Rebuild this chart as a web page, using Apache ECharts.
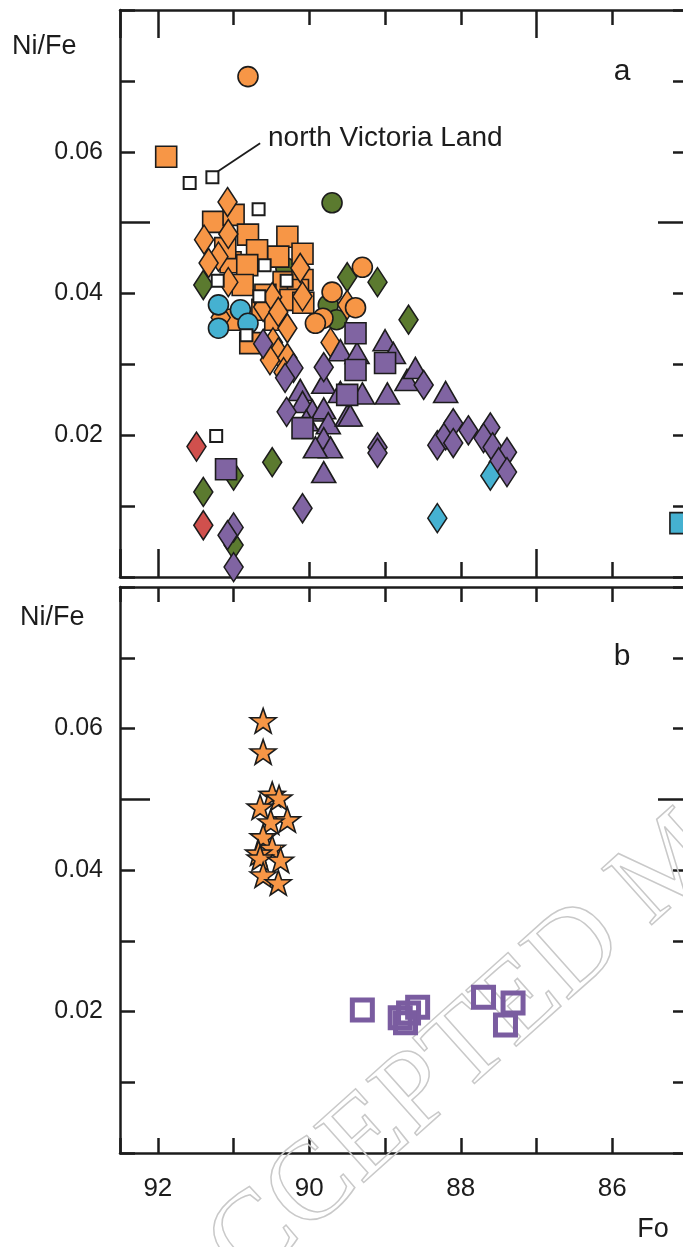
<!DOCTYPE html>
<html><head><meta charset="utf-8">
<script src="https://cdn.jsdelivr.net/npm/echarts@6/dist/echarts.min.js"></script>
<style>html,body{margin:0;padding:0;background:#fff}#c{width:683px;height:1247px}</style>
</head><body><div id="c"></div>
<script>
// ---- tick labels ----
const xTickLabels = [92, 90, 88, 86];
const yTickLabels = [0.02, 0.04, 0.06];
const yLongTicks = [0.05];

// ---- panel a data: [Fo, Ni/Fe] ----
const orangeCircles = [[90.81,0.0706],[89.30,0.0437],[89.70,0.0402],[89.82,0.0365],[89.92,0.0358],[89.39,0.0380]];
const orangeSquares = [[91.89,0.0593],[91.27,0.0501],[91.00,0.0511],[90.81,0.0483],[90.29,0.0480],[90.69,0.0461],
  [90.41,0.0452],[90.09,0.0456],[91.04,0.0444],[90.82,0.0440],[90.88,0.0412],[90.34,0.0416],[90.09,0.0419],
  [90.15,0.0405],[90.25,0.0391],[90.08,0.0387],[90.62,0.0377],[90.78,0.0330],[91.04,0.0363],[90.58,0.0398],
  [90.45,0.0363],[91.11,0.0464]];
const orangeDiamonds = [[91.08,0.0529],[91.39,0.0476],[91.07,0.0484],[91.20,0.0452],[91.33,0.0443],[91.07,0.0416],
  [91.17,0.0366],[90.61,0.0381],[90.49,0.0395],[90.41,0.0374],[90.29,0.0351],[90.48,0.0331],[90.41,0.0317],
  [90.52,0.0306],[90.29,0.0309],[90.34,0.0289],[90.09,0.0396],[89.72,0.0331],[89.50,0.0384],[90.12,0.0436]];
const greenCircles = [[89.70,0.0528],[89.75,0.0384],[89.64,0.0363],[90.31,0.0436]];
const greenDiamonds = [[89.50,0.0423],[89.10,0.0416],[88.69,0.0363],[91.40,0.0412],[90.49,0.0162],[91.40,0.0120],
  [91.00,0.0143],[91.00,0.0045]];
const cyanCircles = [[91.20,0.0384],[90.91,0.0377],[91.20,0.0351],[90.81,0.0358]];
const cyanDiamonds = [[87.61,0.0143],[88.31,0.0083]];
const cyanSquares = [[85.10,0.0076]];
const redDiamonds = [[91.49,0.0184],[91.40,0.0073]];
const nvlSquares = [[91.58,0.0556],[91.28,0.0564],[90.67,0.0519],[91.23,0.0199],[91.21,0.0418],[90.66,0.0396],
  [90.83,0.0341],[90.30,0.0418],[90.59,0.0440]];
const purpleTriangles = [[90.12,0.0264],[90.09,0.0247],[89.96,0.0235],[89.81,0.0238],[89.75,0.0217],[89.81,0.0196],
  [89.72,0.0183],[89.81,0.0148],[89.92,0.0183],[89.59,0.0320],[89.81,0.0274],[89.59,0.0261],[89.50,0.0228],
  [89.37,0.0316],[89.00,0.0334],[88.97,0.0259],[88.71,0.0278],[88.60,0.0295],[88.89,0.0316],[88.20,0.0261],
  [89.30,0.0259],[89.46,0.0228],[90.04,0.0221]];
const purpleSquares = [[91.10,0.0152],[90.09,0.0210],[89.39,0.0344],[89.00,0.0302],[89.39,0.0292],[89.50,0.0257]];
const purpleDiamonds = [[90.61,0.0329],[90.21,0.0295],[90.32,0.0281],[90.30,0.0233],[90.09,0.0097],[91.00,0.0070],
  [91.08,0.0059],[91.00,0.0014],[89.81,0.0296],[89.10,0.0183],[89.10,0.0175],[88.49,0.0271],[88.31,0.0186],
  [88.20,0.0200],[88.10,0.0217],[88.10,0.0189],[87.90,0.0207],[87.61,0.0211],[87.70,0.0196],[87.58,0.0183],
  [87.39,0.0176],[87.50,0.0162],[87.39,0.0148]];
const leaderLine = [[91.21,0.0572],[90.65,0.0612]];

// ---- panel b data ----
const orangeStars = [[90.61,0.0611],[90.61,0.0567],[90.49,0.0507],[90.40,0.0502],[90.65,0.0489],[90.29,0.0471],
  [90.51,0.0468],[90.61,0.0447],[90.49,0.0431],[90.67,0.0424],[90.65,0.0417],[90.38,0.0414],[90.61,0.0393],[90.41,0.0382]];
const purpleOpenSquares = [[89.30,0.0202],[88.80,0.0191],[88.73,0.0184],[88.57,0.0206],[88.69,0.0198],[87.70,0.0220],
  [87.31,0.0212],[87.41,0.0181]];

// ---- styling ----
const FONT = '"Liberation Sans", Arial, sans-serif';
const INK = '#1c1c1c';
const C = {orange:'#F79646', green:'#5B7A2F', cyan:'#45B1D1', purple:'#8064A2', red:'#D0504D'};
const STAR = 'path://M0,-10L2.35,-3.24L9.51,-3.09L3.8,1.24L5.88,8.09L0,4L-5.88,8.09L-3.8,1.24L-9.51,-3.09L-2.35,-3.24Z';
const UNIT = 568 / 7.5;

function xAx(grid, pos, len, labels) {
  return {type:'value', gridIndex:grid, position:pos, min:85, max:92.5, interval:1, inverse:true,
    axisLine:{show:true, onZero:false, lineStyle:{color:INK, width:2.5}},
    axisTick:{show:true, inside:true, length:len, lineStyle:{color:INK, width:2.5}},
    axisLabel:{show:!!labels, customValues:labels, margin:23, color:INK, fontSize:26, fontFamily:FONT,
      formatter:v=>String(Math.round(v))},
    splitLine:{show:false}};
}
// long x ticks (at 92 and 87): same scale, range starting at 82 so interval 5 hits 87 and 92
function xLong(grid, pos) {
  return {type:'value', gridIndex:grid, position:pos, min:82, max:92.5, interval:5, inverse:true,
    axisLine:{show:false, onZero:false},
    axisTick:{show:true, inside:true, length:28, lineStyle:{color:INK, width:2.5}},
    axisLabel:{show:false}, splitLine:{show:false}};
}
function yAx(grid, pos, len, custom, labels) {
  return {type:'value', gridIndex:grid, position:pos, min:0, max:0.08, interval:0.01,
    axisLine:{show:!custom, onZero:false, lineStyle:{color:INK, width:2.5}},
    axisTick:{show:true, inside:true, length:len, customValues:custom, lineStyle:{color:INK, width:2.5}},
    axisLabel:{show:!!labels, customValues:labels, margin:17, color:INK, fontSize:25, fontFamily:FONT,
      formatter:v=>v.toFixed(2)},
    splitLine:{show:false}};
}

function sc(data, symbol, size, color, panel, extra) {
  const s = {type:'scatter', data, symbol, symbolSize:size, xAxisIndex:panel?2:0, yAxisIndex:panel?4:0,
    itemStyle:{color, borderColor:INK, borderWidth:1.6, opacity:1}, emphasis:{disabled:true}, silent:true, animation:false};
  return Object.assign(s, extra||{});
}

const DIA = [19,29], TRI = [24,21];
const series = [
  sc(greenCircles,'circle',20,C.green,0),
  sc(greenDiamonds,'diamond',DIA,C.green,0),
  sc(orangeSquares,'rect',21,C.orange,0),
  sc(orangeDiamonds,'diamond',DIA,C.orange,0),
  sc(orangeCircles,'circle',20,C.orange,0),
  sc(cyanCircles,'circle',20,C.cyan,0),
  sc(nvlSquares,'rect',12,'#ffffff',0,{itemStyle:{color:'#fff',borderColor:INK,borderWidth:2,opacity:1},
    markLine:{silent:true, symbol:'none', animation:false, label:{show:false},
      lineStyle:{color:INK, width:1.8, type:'solid', opacity:1},
      data:[[{coord:leaderLine[0]},{coord:leaderLine[1]}]]}}),
  sc(purpleTriangles,'triangle',TRI,C.purple,0),
  sc(purpleSquares,'rect',21,C.purple,0),
  sc(purpleDiamonds,'diamond',DIA,C.purple,0),
  sc(cyanDiamonds,'diamond',DIA,C.cyan,0),
  sc(cyanSquares,'rect',21,C.cyan,0),
  sc(redDiamonds,'diamond',DIA,C.red,0),
  sc(orangeStars,STAR,26,C.orange,1,{symbolKeepAspect:true}),
  sc(purpleOpenSquares,'rect',20,'rgba(255,255,255,0)',1,
    {itemStyle:{color:'rgba(255,255,255,0)',borderColor:'#7A5CA0',borderWidth:5,opacity:1}})
];

const txt = (x,y,text,size,align) => ({type:'text', x, y, z:10, style:{text, fill:INK, font:`${size}px ${FONT}`,
  align:align||'left', verticalAlign:'middle'}});

const option = {
  backgroundColor:'#ffffff',
  animation:false,
  grid:[
    {left:120, top:10, width:568, height:567, outerBoundsMode:'none', containLabel:false},
    {left:120, top:587, width:568, height:566, outerBoundsMode:'none', containLabel:false},
    {left:120, top:10, width:UNIT*10.5, height:567, outerBoundsMode:'none', containLabel:false}
  ],
  xAxis:[
    xAx(0,'bottom',15), xAx(0,'top',15),
    xAx(1,'bottom',15,xTickLabels), xAx(1,'top',15),
    xLong(2,'bottom'), xLong(2,'top')
  ],
  yAxis:[
    yAx(0,'left',15,undefined,yTickLabels), yAx(0,'right',15), yAx(0,'left',30,yLongTicks), yAx(0,'right',30,yLongTicks),
    yAx(1,'left',15,undefined,yTickLabels), yAx(1,'right',15), yAx(1,'left',30,yLongTicks), yAx(1,'right',30,yLongTicks),
    {type:'value', gridIndex:2, show:false, min:0, max:1}
  ],
  series,
  graphic:[
    txt(12,47,'Ni/Fe',27), txt(20,618,'Ni/Fe',27),
    txt(622,72,'a',30,'center'), txt(622,657,'b',30,'center'),
    txt(653,1230,'Fo',27,'center'),
    txt(268,138,'north Victoria Land',28),
    {type:'text', x:165, y:1320, rotation:0.73, z:1, silent:true,
      style:{text:'ACCEPTED MANUSCRIPT', fill:'rgba(255,255,255,0)', stroke:'#c9c9c9', lineWidth:1.5,
        font:'115px "Liberation Serif", "Times New Roman", serif', align:'left', verticalAlign:'middle'}}
  ]
};
const chart = echarts.init(document.getElementById('c'), null, {renderer:'canvas'});
chart.setOption(option);
</script>
</body></html>
